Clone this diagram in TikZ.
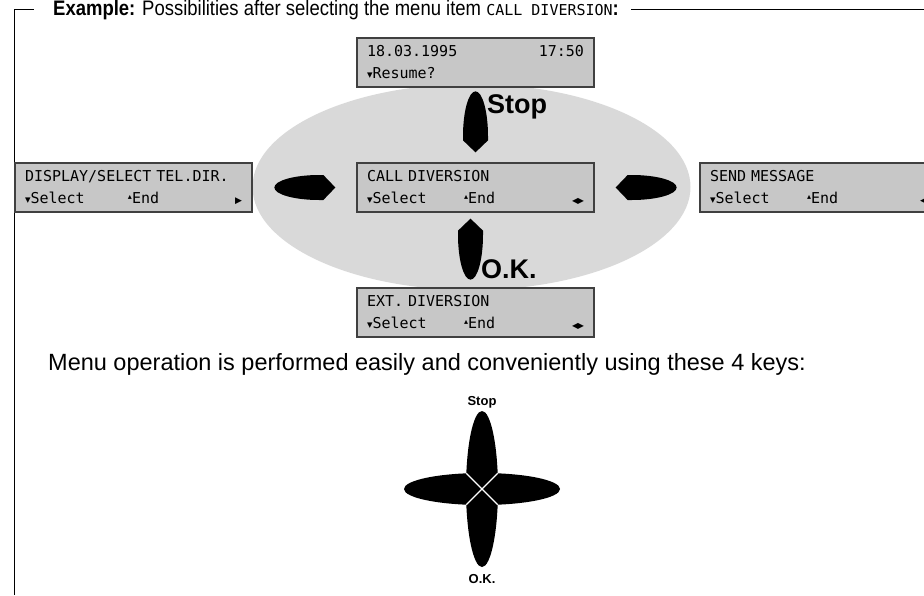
\documentclass[tikz,border=0pt]{standalone}
\usepackage{fontspec}
\setmainfont{Liberation Sans}
\newfontfamily\condfont{Liberation Sans}[FakeStretch=0.88]
\newfontfamily\lcdfont{DejaVu Sans Mono}
\newfontfamily\symfont{DejaVu Sans}
\usetikzlibrary{positioning}

\definecolor{lcdgray}{gray}{0.78}
\definecolor{padgray}{gray}{0.85}
\definecolor{lcdedge}{gray}{0.25}

\newcommand{\okglyph}{{\symfont\fontsize{11}{11}\selectfont ▾}}
\newcommand{\stopglyph}{\raisebox{4pt}{\symfont\fontsize{8}{8}\selectfont ▴}}
\newcommand{\leftright}{{\symfont\fontsize{8}{8}\selectfont ◀\kern-0.5pt▶}}
\newcommand{\rightonly}{{\symfont\fontsize{9}{9}\selectfont ▶}}
\newcommand{\leftonly}{{\symfont\fontsize{9}{9}\selectfont ◀}}

\begin{document}
\begin{tikzpicture}[x=1pt,y=-1pt,on grid,
    lcd/.style={draw=lcdedge, fill=lcdgray, line width=1.3pt,
      minimum width=237pt, minimum height=49pt, text width=217pt,
      inner xsep=10pt, inner ysep=0pt, align=left,
      font=\lcdfont\fontsize{15}{22}\selectfont},
    bigkey/.style={font=\bfseries\fontsize{27}{27}\selectfont, inner sep=0pt, anchor=base west},
    smallkey/.style={font=\bfseries\fontsize{13}{13}\selectfont, inner sep=0pt, anchor=base},
    key/.pic={\fill (0,0) -- (-12.5,-12) -- (-12.5,-16) .. controls (-12.5,-41) and (-6.9,-61) .. (0,-61)
      .. controls (6.9,-61) and (12.5,-41) .. (12.5,-16) -- (12.5,-12) -- cycle;}]
  \useasboundingbox (0,0) rectangle (924,595);

  % frame and heading
  \node[anchor=base west, inner sep=0pt, font=\condfont\fontsize{21}{21}\selectfont] (title) at (53,15.5)
    {\textbf{Example:} Possibilities after selecting the menu item {\lcdfont\fontsize{15}{15}\selectfont CALL DIVERSION}\textbf{:}};
  \draw (14,595) -- (14,9.5) -- (34,9.5);
  \draw ([xshift=12pt]title.east |- 0,9.5) -- (924,9.5);

  % keypad background
  \coordinate (hub) at (471.5,187);
  \fill[padgray] (hub) ellipse [x radius=219, y radius=103];

  % displays
  \node[lcd] (callbox) at (475.5,187.5)
    {CALL DIVERSION\\\makebox[97pt][l]{\okglyph Select}\stopglyph End\hfill\leftright};
  \node[lcd, above=125pt of callbox] (datebox)
    {18.03.1995\hfill 17:50\\\okglyph Resume?};
  \node[lcd, below=125pt of callbox] (extbox)
    {EXT. DIVERSION\\\makebox[97pt][l]{\okglyph Select}\stopglyph End\hfill\leftright};
  \node[lcd, left=342pt of callbox] (dirbox)
    {DISPLAY/SELECT TEL.DIR.\\\makebox[103pt][l]{\okglyph Select}\stopglyph End\hfill\rightonly};
  \node[lcd, right=343pt of callbox] (msgbox)
    {SEND MESSAGE\\\makebox[97pt][l]{\okglyph Select}\stopglyph End\hfill\leftonly\hspace*{6pt}};

  % keys pointing at the current display
  \pic at ([yshift=10pt]callbox.north) {key};
  \pic[rotate=180] at ([xshift=-5pt,yshift=-6pt]callbox.south) {key};
  \pic[rotate=90] at ([xshift=-21pt]callbox.west) {key};
  \pic[rotate=-90] at ([xshift=21pt]callbox.east) {key};
  \node[bigkey] (stoplbl) at (487,113) {Stop};
  \node[bigkey] (oklbl) at (481,278) {O.K.};

  \node[anchor=base west, inner sep=0pt, font=\fontsize{23.5}{23.5}\selectfont] (usage) at (48,370)
    {Menu operation is performed easily and conveniently using these 4 keys:};

  % the four keys
  \coordinate (pad) at (482,489);
  \fill (pad) ellipse [x radius=78, y radius=16];
  \fill (pad) ellipse [x radius=16, y radius=78];
  \draw[white, line width=1.2pt] ([shift={(-15.7,-15.7)}]pad) -- ([shift={(15.7,15.7)}]pad);
  \draw[white, line width=1.2pt] ([shift={(15.7,-15.7)}]pad) -- ([shift={(-15.7,15.7)}]pad);
  \node[smallkey] (stopkey) at (482,405) {Stop};
  \node[smallkey] (okkey) at (482,583) {O.K.};
\end{tikzpicture}
\end{document}
